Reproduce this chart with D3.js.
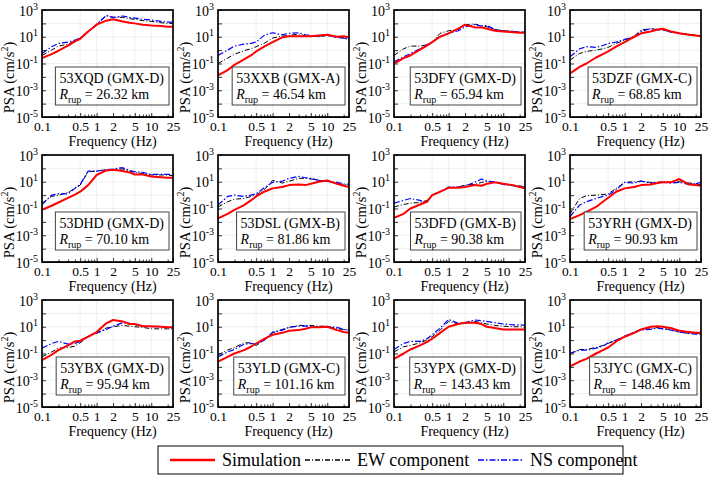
<!DOCTYPE html>
<html>
<head>
<meta charset="utf-8">
<script src="https://cdn.jsdelivr.net/npm/d3@7"></script>
<style>
body { margin: 0; background: #fff; }
svg text { font-family: "Liberation Serif", "Times New Roman", "DejaVu Serif", serif; fill: #000; }
</style>
</head>
<body>
<svg id="chart" width="708" height="477" font-family="Liberation Serif"></svg>
<script>
// frequencies (Hz) shared by every curve
var freq = [0.1, 0.15, 0.2, 0.3, 0.4, 0.5, 0.7, 1, 1.5, 2, 3, 4, 5, 7, 10, 15, 20, 25];

var stations = ["53XQD", "53XXB", "53DFY", "53DZF", "53DHD", "53DSL", "53DFD", "53YRH", "53YBX", "53YLD", "53YPX", "53JYC"];
var siteClass = ["GMX-D", "GMX-A", "GMX-D", "GMX-C", "GMX-D", "GMX-B", "GMX-B", "GMX-D", "GMX-D", "GMX-C", "GMX-D", "GMX-C"];
var rrup = ["26.32", "46.54", "65.94", "68.85", "70.10", "81.86", "90.38", "90.93", "95.94", "101.16", "143.43", "148.46"];

// PSA (cm/s^2), one row per station
var simulation = [
  [0.25, 0.5, 0.9, 2.2, 4.5, 7, 25, 80, 160, 200, 140, 112, 100, 80, 70, 63, 56, 56],
  [0.013, 0.032, 0.08, 0.2, 0.4, 0.8, 1.8, 4, 9, 11, 11, 11, 11, 12.6, 14, 10, 11, 9],
  [0.1, 0.25, 0.4, 1.1, 2.2, 4, 10, 18, 40, 80, 50, 50, 40, 28, 25, 22, 20, 20],
  [0.018, 0.056, 0.1, 0.28, 0.5, 0.8, 1.8, 4, 10, 18, 25, 35, 40, 25, 18, 14, 12.6, 11],
  [0.08, 0.16, 0.28, 0.63, 1.1, 1.8, 5.6, 32, 70, 80, 63, 50, 35, 35, 25, 22, 20, 20],
  [0.018, 0.04, 0.08, 0.18, 0.4, 0.8, 1.8, 3.2, 4, 5.6, 6.3, 5.6, 7, 10, 12.6, 7, 5, 4],
  [0.02, 0.04, 0.1, 0.2, 0.32, 1, 1.8, 3.5, 3.5, 4, 5.6, 5, 7, 9, 7, 5.6, 4, 3.2],
  [0.016, 0.032, 0.056, 0.13, 0.32, 0.63, 1.8, 3.2, 4, 5.6, 6.3, 8, 9, 9, 16, 6.3, 5.6, 5],
  [0.032, 0.08, 0.18, 0.4, 0.8, 0.9, 1.8, 4, 18, 32, 25, 16, 16, 11, 11, 10, 9, 9],
  [0.025, 0.056, 0.1, 0.18, 0.32, 0.56, 1.26, 2.5, 3.5, 5, 5.6, 7, 9, 9, 10, 5.6, 4, 3.5],
  [0.04, 0.1, 0.2, 0.4, 0.7, 1.26, 3.5, 10, 16, 20, 20, 16, 10, 8, 6.3, 6.3, 6.3, 6.3],
  [0.011, 0.025, 0.04, 0.1, 0.18, 0.28, 0.8, 1.8, 3.5, 6.3, 10, 11, 10, 8, 5, 4, 3.5, 3.5]
];

var ewComponent = [
  [0.4, 1, 2, 2.8, 5, 8, 25, 90, 355, 280, 280, 224, 200, 160, 140, 112, 100, 100],
  [0.1, 0.25, 0.5, 0.9, 1.26, 1.8, 3.2, 8, 11, 12.6, 16, 11, 11, 10, 12.6, 9, 8, 7],
  [0.4, 1.26, 2, 2, 2.5, 4, 18, 28, 35, 80, 90, 63, 56, 35, 28, 25, 22, 22],
  [0.18, 0.56, 0.8, 1, 1.26, 1.6, 3.2, 5.6, 11, 32, 40, 35, 32, 25, 18, 16, 12.6, 11],
  [0.25, 0.8, 1, 1.6, 3.2, 5.6, 56, 63, 80, 80, 90, 63, 50, 40, 32, 32, 32, 28],
  [0.13, 0.32, 0.5, 0.56, 0.8, 1, 2.5, 12.6, 8, 11, 18, 18, 16, 12.6, 11, 7, 6.3, 5.6],
  [0.13, 0.2, 0.25, 0.28, 0.4, 1, 1.8, 3.5, 4, 5.6, 6.3, 9, 10, 10, 7, 5.6, 5, 4],
  [0.04, 0.56, 0.9, 1, 1.1, 1.26, 3.2, 9, 10, 11, 9, 9, 10, 9, 10, 8, 7, 5.6],
  [0.056, 0.13, 0.25, 0.28, 0.35, 0.63, 1.8, 3.2, 8, 10, 12.6, 11, 10, 9, 7, 7, 7, 7],
  [0.08, 0.18, 0.28, 0.63, 0.63, 0.4, 1, 3.5, 6.3, 9, 12.6, 12.6, 12.6, 11, 11, 7, 6.3, 5.6],
  [0.13, 0.32, 0.4, 0.63, 1, 1.8, 5.6, 25, 16, 18, 25, 20, 16, 12.6, 11, 10, 10, 9],
  [0.1, 0.2, 0.2, 0.28, 0.4, 0.56, 1, 1.8, 4, 6.3, 7, 9, 7, 6.3, 4, 3.2, 3.2, 3.2]
];

var nsComponent = [
  [0.56, 1.8, 3.2, 4, 5.6, 8, 25, 80, 400, 280, 355, 280, 250, 200, 180, 140, 126, 126],
  [0.4, 1, 2, 2.8, 3.2, 4, 12.6, 20, 14, 18, 20, 14, 12.6, 11, 12.6, 9, 8, 6.3],
  [0.13, 0.32, 0.56, 1.26, 2.5, 4, 11, 18, 28, 56, 80, 63, 70, 35, 28, 25, 22, 22],
  [0.32, 1.26, 1.8, 1.6, 2.2, 3.2, 4, 6.3, 10, 25, 40, 32, 35, 22, 18, 14, 12.6, 11],
  [0.2, 1, 1.26, 1.26, 3.2, 6.3, 63, 63, 80, 90, 112, 70, 56, 50, 35, 35, 35, 35],
  [0.18, 0.8, 1, 0.8, 1, 1.26, 3.5, 9, 11, 18, 25, 20, 18, 12.6, 11, 9, 7, 6.3],
  [0.25, 0.4, 0.56, 0.4, 0.28, 1, 1.8, 4, 4, 5, 9, 16, 11, 10, 6.3, 5, 4, 4],
  [0.025, 0.18, 0.32, 0.56, 0.8, 1, 2.5, 9, 8, 11, 8, 9, 9, 8, 9, 6.3, 7, 9],
  [0.25, 0.56, 0.8, 0.5, 0.56, 0.8, 1.8, 3.5, 6.3, 11, 20, 18, 14, 11, 10, 10, 9, 9],
  [0.056, 0.13, 0.2, 0.5, 0.56, 0.5, 1, 4, 5.6, 9, 11, 11, 11, 9, 10, 9, 6.3, 5.6],
  [0.2, 0.56, 0.8, 0.8, 1.26, 2.5, 8, 35, 18, 20, 32, 28, 25, 20, 16, 14, 14, 12.6],
  [0.1, 0.18, 0.18, 0.25, 0.35, 0.63, 1, 2, 4, 5.6, 6.3, 8, 7, 5.6, 4, 3.2, 2.8, 2.8]
];

var xTicks = [0.1, 0.5, 1, 2, 5, 10, 25];
var xMinor = [0.2, 0.3, 0.4, 0.6, 0.7, 0.8, 0.9, 3, 4, 6, 7, 8, 9, 20];
var yDecades = [1e-5, 1e-4, 1e-3, 1e-2, 1e-1, 1, 1e1, 1e2, 1e3];

var W = 131, H = 107;
var FONT = "Liberation Serif";

var svg = d3.select("#chart");

var x = d3.scaleLog().domain([0.1, 25]).range([0, W]);
var y = d3.scaleLog().domain([1e-5, 1e3]).range([H, 0]);

var line = d3.line()
  .x(function(d) { return x(d[0]); })
  .y(function(d) { return y(d[1]); });

var series = [
  {data: ewComponent, color: "#000", width: 1, dash: "5,2,1,2"},
  {data: nsComponent, color: "#0000ff", width: 1.2, dash: "6,2,1.5,2"},
  {data: simulation, color: "#ff0000", width: 2, dash: null}
];

stations.forEach(function(name, i) {
  var col = i % 4, row = Math.floor(i / 4);
  var g = svg.append("g")
    .attr("transform", "translate(" + (42 + col * 176) + "," + (10 + row * 145) + ")");

  svg.append("clipPath").attr("id", "clip" + i)
    .append("rect").attr("width", W).attr("height", H);

  // faint grid
  g.append("g").selectAll("line").data(xTicks.slice(1, -1)).enter().append("line")
    .attr("x1", function(d) { return x(d); }).attr("x2", function(d) { return x(d); })
    .attr("y1", 0).attr("y2", H)
    .attr("stroke", "#e4e4e4").attr("stroke-width", 0.6);
  g.append("g").selectAll("line").data(yDecades.slice(1, -1)).enter().append("line")
    .attr("y1", function(d) { return y(d); }).attr("y2", function(d) { return y(d); })
    .attr("x1", 0).attr("x2", W)
    .attr("stroke", "#e4e4e4").attr("stroke-width", 0.6);

  // x axis
  var xa = g.append("g").attr("transform", "translate(0," + H + ")")
    .call(d3.axisBottom(x).tickValues(xTicks).tickFormat(d3.format("")).tickSizeInner(-4).tickSizeOuter(0).tickPadding(4));
  g.append("g").attr("transform", "translate(0," + H + ")")
    .call(d3.axisBottom(x).tickValues(xMinor).tickFormat("").tickSizeInner(-2.5).tickSizeOuter(0));

  // y axis
  var ya = g.append("g")
    .call(d3.axisLeft(y).tickValues(yDecades).tickFormat("").tickSizeInner(-4).tickSizeOuter(0));
  ya.selectAll(".tick").each(function(d) {
    var e = Math.round(Math.log10(d));
    if (e % 2 === 0) return;
    var t = d3.select(this).append("text")
      .attr("x", -4).attr("y", 5)
      .attr("text-anchor", "end");
    t.append("tspan").text("10");
    t.append("tspan").attr("dy", -6).style("font-size", "10px").text(String(e));
  });

  [xa, ya].forEach(function(a) {
    a.attr("font-family", FONT);
    a.selectAll("text").style("font-size", "13.5px").attr("fill", "#000");
    a.select(".domain").remove();
  });
  ya.selectAll("text").style("font-size", "14px");
  ya.selectAll("tspan:last-child").style("font-size", "10px");
  g.selectAll(".tick line").attr("stroke", "#000").attr("stroke-width", 0.8);

  // curves
  var plot = g.append("g").attr("clip-path", "url(#clip" + i + ")");
  series.forEach(function(s) {
    plot.append("path")
      .datum(freq.map(function(f, k) { return [f, s.data[i][k]]; }))
      .attr("d", line)
      .attr("fill", "none")
      .attr("stroke", s.color)
      .attr("stroke-width", s.width)
      .attr("stroke-dasharray", s.dash)
      .attr("stroke-linejoin", "round");
  });

  // frame
  g.append("rect").attr("width", W).attr("height", H)
    .attr("fill", "none").attr("stroke", "#000").attr("stroke-width", 1.7);

  // axis titles
  g.append("text")
    .attr("x", W / 2 + 5).attr("y", H + 28.5)
    .attr("text-anchor", "middle")
    .style("font-size", "14px")
    .text("Frequency (Hz)");

  var yl = g.append("text")
    .attr("transform", "translate(" + (-28) + "," + (H / 2 + 14) + ") rotate(-90)")
    .attr("text-anchor", "middle")
    .style("font-size", "14.5px");
  yl.append("tspan").text("PSA (cm/s");
  yl.append("tspan").attr("dy", -6).style("font-size", "10px").text("2");
  yl.append("tspan").attr("dy", 6).text(")");

  // station box
  var box = g.append("g");
  var rect = box.append("rect").attr("fill", "#fff").attr("stroke", "#444").attr("stroke-width", 1);
  var l1 = box.append("text").style("font-size", "14px").text(name + " (" + siteClass[i] + ")");
  var l2 = box.append("text").style("font-size", "14px");
  l2.append("tspan").style("font-style", "italic").text("R");
  l2.append("tspan").attr("dy", 4).style("font-size", "10px").text("rup");
  l2.append("tspan").attr("dy", -4).text(" = " + rrup[i] + " km");
  var tw = Math.max(l1.node().getComputedTextLength(), l2.node().getComputedTextLength());
  var bx = W - 4 - tw - 9, by = H - 12 - 38;
  rect.attr("x", bx).attr("y", by).attr("width", tw + 9).attr("height", 38);
  l1.attr("x", bx + 4).attr("y", by + 16);
  l2.attr("x", bx + 4).attr("y", by + 32);
});

// legend
var legendItems = [
  {label: "Simulation", s: series[2], x: 170},
  {label: "EW component", s: series[0], x: 305},
  {label: "NS component", s: series[1], x: 478}
];
var lg = svg.append("g");
lg.append("rect").attr("x", 158).attr("y", 446).attr("width", 465).attr("height", 28)
  .attr("fill", "#fff").attr("stroke", "#000").attr("stroke-width", 1);
legendItems.forEach(function(it) {
  lg.append("line")
    .attr("x1", it.x).attr("x2", it.x + 45).attr("y1", 460).attr("y2", 460)
    .attr("stroke", it.s.color).attr("stroke-width", it.s.width + 0.3)
    .attr("stroke-dasharray", it.s.dash);
  lg.append("text").attr("x", it.x + 52).attr("y", 466)
    .style("font-size", "18px").text(it.label);
});
</script>
</body>
</html>
